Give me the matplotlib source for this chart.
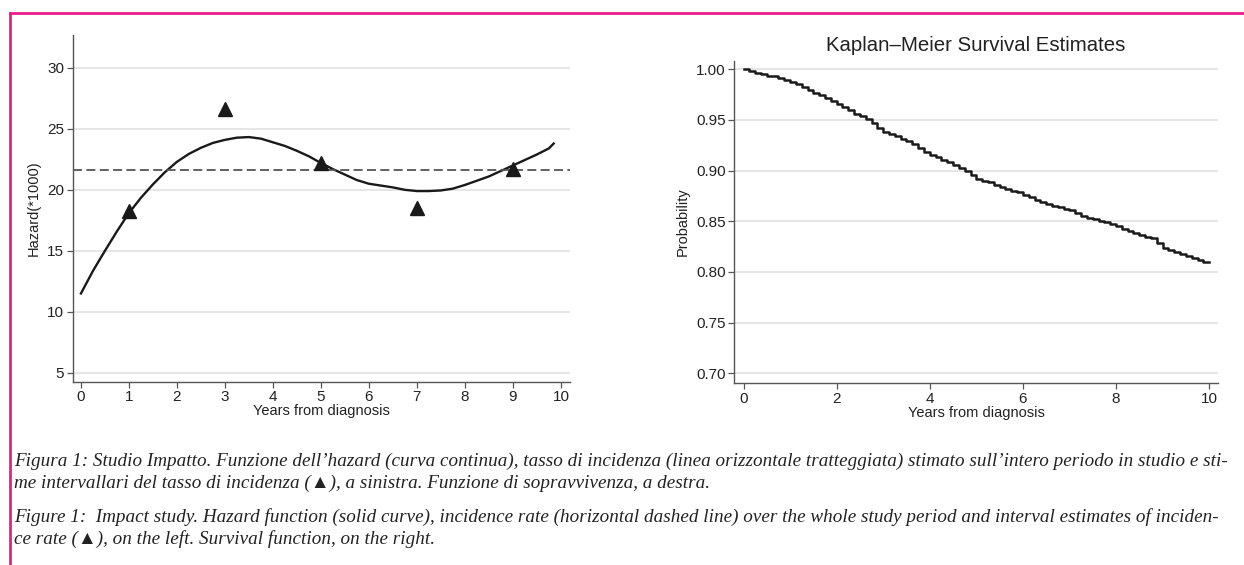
import matplotlib
matplotlib.use("Agg")
import matplotlib.pyplot as plt
from matplotlib.lines import Line2D

# ---------------- data ----------------
hazard_years = [0, 0.25, 0.5, 0.75, 1, 1.25, 1.5, 1.75, 2, 2.25, 2.5, 2.75, 3, 3.25,
                3.5, 3.75, 4, 4.25, 4.5, 4.75, 5, 5.25, 5.5, 5.75, 6, 6.25, 6.5, 6.75,
                7, 7.25, 7.5, 7.75, 8, 8.25, 8.5, 8.75, 9, 9.25, 9.5, 9.75, 9.85]
hazard_values = [11.5, 13.35, 15.0, 16.6, 18.1, 19.35, 20.45, 21.45, 22.3, 22.95, 23.45,
                 23.85, 24.1, 24.28, 24.33, 24.2, 23.9, 23.6, 23.2, 22.75, 22.2, 21.7,
                 21.25, 20.8, 20.5, 20.35, 20.2, 20.0, 19.9, 19.9, 19.95, 20.1, 20.4,
                 20.75, 21.1, 21.55, 22.0, 22.45, 22.9, 23.4, 23.8]
incidence_rate = 21.63
interval_years = [1, 3, 5, 7, 9]
interval_rates = [18.3, 26.6, 22.2, 18.5, 21.7]

km_years = [0.000, 0.125, 0.250, 0.375, 0.500, 0.625, 0.750, 0.875, 1.000, 1.125,
            1.250, 1.375, 1.500, 1.625, 1.750, 1.875, 2.000, 2.125, 2.250, 2.375,
            2.500, 2.625, 2.750, 2.875, 3.000, 3.125, 3.250, 3.375, 3.500, 3.625,
            3.750, 3.875, 4.000, 4.125, 4.250, 4.375, 4.500, 4.625, 4.750, 4.875,
            5.000, 5.125, 5.250, 5.375, 5.500, 5.625, 5.750, 5.875, 6.000, 6.125,
            6.250, 6.375, 6.500, 6.625, 6.750, 6.875, 7.000, 7.125, 7.250, 7.375,
            7.500, 7.625, 7.750, 7.875, 8.000, 8.125, 8.250, 8.375, 8.500, 8.625,
            8.750, 8.875, 9.000, 9.125, 9.250, 9.375, 9.500, 9.625, 9.750, 9.875,
            10.000]
km_surv = [1.000, 0.998, 0.9965, 0.995, 0.9935, 0.993, 0.991, 0.989, 0.987, 0.985,
           0.9825, 0.980, 0.977, 0.975, 0.972, 0.969, 0.966, 0.963, 0.960, 0.956,
           0.954, 0.951, 0.947, 0.942, 0.938, 0.936, 0.934, 0.931, 0.929, 0.926,
           0.922, 0.918, 0.9155, 0.913, 0.910, 0.908, 0.906, 0.903, 0.900, 0.896,
           0.892, 0.890, 0.889, 0.886, 0.884, 0.882, 0.880, 0.879, 0.876, 0.874,
           0.871, 0.869, 0.867, 0.865, 0.864, 0.862, 0.861, 0.858, 0.855, 0.853,
           0.852, 0.850, 0.849, 0.847, 0.845, 0.842, 0.840, 0.838, 0.836, 0.834,
           0.833, 0.829, 0.824, 0.822, 0.820, 0.818, 0.816, 0.814, 0.812, 0.810,
           0.810]

left_yticks = [5, 10, 15, 20, 25, 30]
left_xticks = list(range(0, 11))
right_yticks = [0.70, 0.75, 0.80, 0.85, 0.90, 0.95, 1.00]
right_xticks = [0, 2, 4, 6, 8, 10]

caption_it = ("Figura 1: Studio Impatto. Funzione dell\u2019hazard (curva continua), tasso di incidenza "
              "(linea orizzontale tratteggiata) stimato sull\u2019intero periodo in studio e sti-",
              "me intervallari del tasso di incidenza (\u25B2), a sinistra. Funzione di sopravvivenza, a destra.")
caption_en = ("Figure 1:  Impact study. Hazard function (solid curve), incidence rate (horizontal dashed line) "
              "over the whole study period and interval estimates of inciden-",
              "ce rate (\u25B2), on the left. Survival function, on the right.")

# ---------------- style ----------------
plt.rcParams['font.family'] = ['Liberation Sans', 'DejaVu Sans']
TXT = '#222222'
SPINE = '#555555'
GRID = '#e6e6e6'
PINK = '#ec1c8c'

fig = plt.figure(figsize=(12.44, 5.65), dpi=100)


def style_axes(ax):
    for s in ['top', 'right']:
        ax.spines[s].set_visible(False)
    for s in ['left', 'bottom']:
        ax.spines[s].set_color(SPINE)
        ax.spines[s].set_linewidth(1.0)
    ax.tick_params(axis='both', direction='out', length=4, width=0.9, color=SPINE,
                   labelsize=11, labelcolor=TXT, pad=2)
    ax.grid(axis='y', color=GRID, linewidth=1.4)
    ax.set_axisbelow(True)


# Left: hazard
ax1 = fig.add_axes([0.0584, 0.3244, 0.3998, 0.6136])
style_axes(ax1)
ax1.plot(hazard_years, hazard_values, color='#1a1a1a', linewidth=1.7,
         solid_joinstyle='round')
ax1.axhline(incidence_rate, color='#555555', linewidth=1.3, dashes=(5, 2.4))
ax1.plot(interval_years, interval_rates, linestyle='none', marker='^', markersize=10,
         color='#1a1a1a')
ax1.set_xlim(-0.173, 10.19)
ax1.set_ylim(4.26, 32.7)
ax1.set_xticks(left_xticks)
ax1.set_yticks(left_yticks)
ax1.set_xlabel('Years from diagnosis', fontsize=10.5, color=TXT, labelpad=0)
ax1.set_ylabel('Hazard(*1000)', fontsize=10.5, color=TXT, labelpad=5)

# Right: Kaplan-Meier
ax2 = fig.add_axes([0.5902, 0.3216, 0.3889, 0.571])
style_axes(ax2)
ax2.plot(km_years, km_surv, drawstyle='steps-post', color='#1a1a1a', linewidth=1.8)
ax2.set_xlim(-0.2, 10.19)
ax2.set_ylim(0.690, 1.0085)
ax2.set_xticks(right_xticks)
ax2.set_yticks(right_yticks)
ax2.set_yticklabels([f'{v:.2f}' for v in right_yticks])
ax2.set_xlabel('Years from diagnosis', fontsize=10.5, color=TXT, labelpad=0)
ax2.set_ylabel('Probability', fontsize=10.5, color=TXT, labelpad=5)
ax2.set_title('Kaplan\u2013Meier Survival Estimates', fontsize=14.7, color=TXT, pad=7)

# Pink frame (top and left edges)
fig.add_artist(Line2D([10 / 1244, 1.0], [1 - 13.3 / 565] * 2, transform=fig.transFigure,
                      color=PINK, linewidth=2))
fig.add_artist(Line2D([10 / 1244] * 2, [0.0, 1 - 13.3 / 565], transform=fig.transFigure,
                      color=PINK, linewidth=2))

# Captions
cap_font = ['Liberation Serif', 'DejaVu Serif']
cap_kw = dict(fontsize=13.8, style='italic', family=cap_font, color='#222222',
              ha='left', va='center', transform=fig.transFigure)
x0 = 14 / 1244
for y, t in zip([461, 483], caption_it):
    fig.text(x0, 1 - y / 565, t, **cap_kw)
for y, t in zip([517, 539], caption_en):
    fig.text(x0, 1 - y / 565, t, **cap_kw)

fig.savefig('out.png', dpi=100)
